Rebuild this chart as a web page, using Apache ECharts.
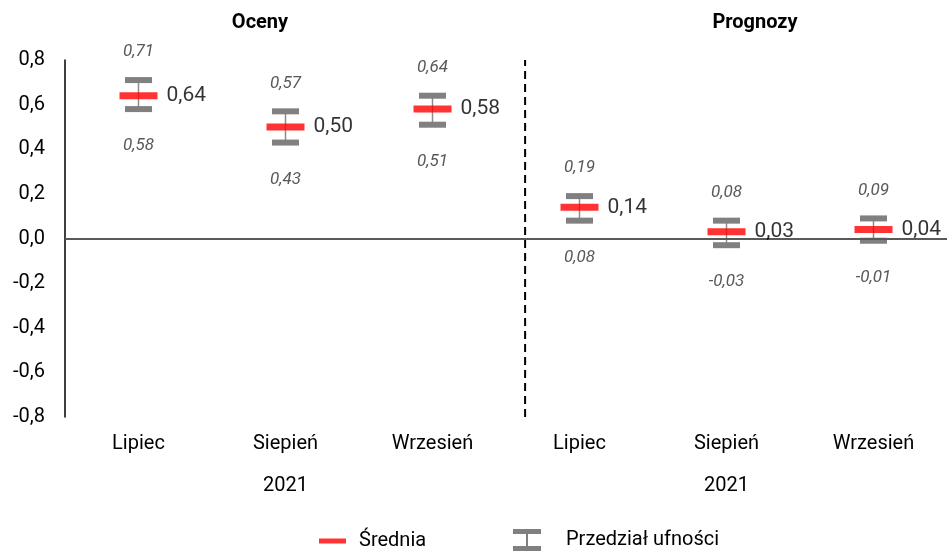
<!DOCTYPE html>
<html>
<head>
<meta charset="utf-8">
<script src="https://cdn.jsdelivr.net/npm/echarts@6/dist/echarts.min.js"></script>
</head>
<body style="margin:0">
<div id="main" style="width: 951px;height:551px;"></div>
<script type="text/javascript">
    // dane
    var months = ['Lipiec', 'Siepień', 'Wrzesień', 'Lipiec', 'Siepień', 'Wrzesień'];
    var yearLabel = '2021';
    var mean = [0.64, 0.50, 0.58, 0.14, 0.03, 0.04];
    var lower = [0.58, 0.43, 0.51, 0.08, -0.03, -0.01];
    var upper = [0.71, 0.57, 0.64, 0.19, 0.08, 0.09];
    var dividerAt = 3.13; // między Oceny i Prognozy

    var fmt = function (v) { return v.toFixed(2).replace('.', ','); };

    var ciData = months.map(function (m, i) { return [i, mean[i], lower[i], upper[i]]; });
    var meanData = months.map(function (m, i) { return [i, mean[i]]; });

    var myChart = echarts.init(document.getElementById('main'));
    var option = {
        animation: false,
        textStyle: { fontFamily: 'Roboto' },
        grid: { left: 65, right: 4, top: 60, bottom: 134 },
        graphic: [
            { type: 'text', x: 260, y: 23, style: { text: 'Oceny', align: 'center', verticalAlign: 'middle', font: 'bold 20px Roboto', fill: '#000' } },
            { type: 'text', x: 755, y: 23, style: { text: 'Prognozy', align: 'center', verticalAlign: 'middle', font: 'bold 20px Roboto', fill: '#000' } }
        ],
        legend: [{
            data: [{ name: 'Średnia', icon: 'rect' }],
            left: 314, top: 526,
            itemWidth: 27, itemHeight: 5,
            textStyle: { fontSize: 20, color: '#000', padding: [0, 0, 0, 8] }
        }, {
            data: [{ name: 'Przedział ufności', icon: 'path://M0,0h28v5H0z M13,5h2v12h-2z M0,17h28v5H0z' }],
            left: 508, top: 524,
            itemWidth: 28, itemHeight: 22,
            textStyle: { fontSize: 20, color: '#000', padding: [0, 0, 0, 20] }
        }],
        xAxis: [{
            type: 'category',
            data: months,
            axisLine: { show: false },
            axisTick: { show: false },
            axisLabel: {
                fontSize: 20, color: '#000', lineHeight: 42, margin: 6,
                formatter: function (v, i) { return (i === 1 || i === 4) ? v + '\n' + yearLabel : v; }
            }
        }, {
            type: 'value', min: 0, max: 6, show: false
        }],
        yAxis: {
            type: 'value', min: -0.8, max: 0.8, interval: 0.2,
            axisLine: { show: true, onZero: false, lineStyle: { color: '#000', width: 1.5 } },
            axisTick: { show: false },
            splitLine: { show: false },
            axisLabel: {
                fontSize: 20, color: '#000', margin: 20,
                formatter: function (v) { return v.toFixed(1).replace('.', ','); }
            }
        },
        series: [{
            name: 'divider',
            type: 'line',
            xAxisIndex: 1,
            data: [[dividerAt, -0.8], [dividerAt, 0.8]],
            symbol: 'none',
            silent: true,
            lineStyle: { color: '#000', width: 2, type: [8, 5] }
        }, {
            name: 'Przedział ufności',
            type: 'custom',
            itemStyle: { color: '#808080' },
            data: ciData,
            renderItem: function (params, api) {
                var x = api.value(0);
                var lo = api.value(2), hi = api.value(3);
                var pLo = api.coord([x, lo]);
                var pHi = api.coord([x, hi]);
                var capW = 27, capH = 6;
                var lab = { font: 'italic 17px Roboto', fill: '#595959', align: 'center', verticalAlign: 'middle' };
                return {
                    type: 'group',
                    children: [
                        { type: 'line', shape: { x1: pHi[0], y1: pHi[1], x2: pLo[0], y2: pLo[1] }, style: { stroke: '#8c8c8c', lineWidth: 1.5 } },
                        { type: 'rect', shape: { x: pHi[0] - capW / 2, y: pHi[1] - capH / 2, width: capW, height: capH }, style: { fill: '#808080' } },
                        { type: 'rect', shape: { x: pLo[0] - capW / 2, y: pLo[1] - capH / 2, width: capW, height: capH }, style: { fill: '#808080' } },
                        { type: 'text', x: pHi[0], y: pHi[1] - 28, style: Object.assign({ text: fmt(hi) }, lab) },
                        { type: 'text', x: pLo[0], y: pLo[1] + 37, style: Object.assign({ text: fmt(lo) }, lab) }
                    ]
                };
            },
            markLine: {
                silent: true,
                symbol: 'none',
                label: { show: false },
                lineStyle: { color: '#595959', width: 2, type: 'solid' },
                data: [{ yAxis: 0 }]
            }
        }, {
            name: 'Średnia',
            type: 'scatter',
            data: meanData,
            symbol: 'rect',
            symbolSize: [38, 7],
            itemStyle: { color: '#ff0000' },
            z: 5,
            label: {
                show: true, position: 'right', distance: 9,
                fontSize: 21, color: '#000',
                formatter: function (p) { return fmt(p.value[1]); }
            }
        }]
    };
    myChart.setOption(option);
</script>
</body>
</html>
